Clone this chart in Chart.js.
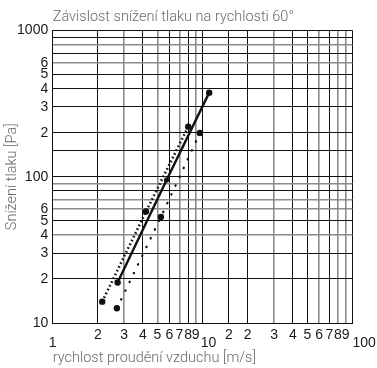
<!DOCTYPE html>
<html>
<head>
<meta charset="utf-8">
<script src="https://cdn.jsdelivr.net/npm/chart.js@4.4.1/dist/chart.umd.min.js"></script>
<style>
  html, body { margin: 0; padding: 0; background: #fff; }
  canvas { display: block; }
</style>
</head>
<body>
<canvas id="chart" width="377" height="368"></canvas>
<script>
// measured series (air speed m/s -> pressure drop Pa)
const solidSpeed = [2.71, 5.75, 11.07];
const solidDrop = [18.9, 95, 376];
const dashSpeed = [2.14, 4.19, 8.02];
const dashDrop = [14, 57.8, 220];
const dotSpeed = [2.68, 5.27, 9.59];
const dotDrop = [12.6, 53, 199];

const yLabeled = [10, 20, 30, 40, 50, 60, 100, 200, 300, 400, 500, 600, 1000];
const xDecades = {1: ['', '1'], 10: ['', '   10'], 100: ['', '      100']};

// grid lines that came out grey in the scan
const greyX = [3, 5, 7, 9, 30, 60, 80, 90];
const greyY = [800, 600, 90, 70, 60, 40];

const toPoints = (xs, ys) => xs.map((x, i) => ({x: x, y: ys[i]}));

function mantissa(v) {
    return Math.round(v / Math.pow(10, Math.floor(Math.log10(v) + 1e-9)));
}

const ink = '#111';
const grey = '#8c8c8c';
const labelColor = '#6a6a6a';
const labelFont = {family: 'Roboto', size: 14.5, weight: 300, lineHeight: 1.2};

new Chart(document.getElementById('chart'), {
    type: 'line',
    data: {
        datasets: [
            {
                data: toPoints(solidSpeed, solidDrop),
                borderColor: ink,
                backgroundColor: ink,
                borderWidth: 2.4,
                pointRadius: [3.2, 2.6, 3.2],
                pointBorderWidth: 0,
            },
            {
                data: toPoints(dashSpeed, dashDrop),
                borderColor: ink,
                backgroundColor: ink,
                borderWidth: 2.6,
                borderDash: [1.6, 2.6],
                pointRadius: 3.2,
                pointBorderWidth: 0,
            },
            {
                data: toPoints(dotSpeed, dotDrop),
                borderColor: ink,
                backgroundColor: ink,
                borderWidth: 2.2,
                borderDash: [0.5, 9.2],
                borderCapStyle: 'round',
                pointRadius: 3.2,
                pointBorderWidth: 0,
            },
        ]
    },
    options: {
        responsive: false,
        animation: false,
        layout: {
            padding: {top: 0, right: 24.5, left: 0, bottom: 0}
        },
        plugins: {
            legend: {display: false},
            tooltip: {enabled: false},
            title: {
                display: true,
                text: 'Závislost snížení tlaku na rychlosti 60°',
                align: 'start',
                fullSize: false,
                color: labelColor,
                font: labelFont,
                padding: {top: 8.5, bottom: 4.6},
            },
        },
        scales: {
            x: {
                type: 'logarithmic',
                min: 1,
                max: 100,
                grid: {
                    drawTicks: false,
                    color: ctx => greyX.includes(ctx.tick && ctx.tick.value) ? grey : ink,
                    lineWidth: ctx => greyX.includes(ctx.tick && ctx.tick.value) ? 1.6 : 1,
                },
                border: {display: true, color: ink, width: 1},
                ticks: {
                    autoSkip: false,
                    maxRotation: 0,
                    padding: 8,
                    color: '#1a1a1a',
                    font: {family: 'Liberation Sans', size: 14, lineHeight: '8px'},
                    callback: function (value) {
                        if (xDecades[value]) return xDecades[value];
                        return String(mantissa(value));
                    }
                },
                title: {
                    display: true,
                    text: 'rychlost proudění vzduchu [m/s]',
                    align: 'start',
                    color: labelColor,
                    font: labelFont,
                    padding: {top: 0, bottom: 1.3},
                },
                afterFit: scale => {
                    scale.height = 45;
                    scale.paddingLeft = 0;
                    scale.paddingRight = 0;
                },
            },
            y: {
                type: 'logarithmic',
                min: 10,
                max: 1000,
                grid: {
                    drawTicks: false,
                    color: ctx => greyY.includes(ctx.tick && ctx.tick.value) ? grey : ink,
                    lineWidth: ctx => greyY.includes(ctx.tick && ctx.tick.value) ? 1.6 : 1,
                },
                border: {display: true, color: ink, width: 1},
                ticks: {
                    autoSkip: false,
                    padding: 4.5,
                    color: '#1a1a1a',
                    font: {family: 'Liberation Sans', size: 14},
                    callback: function (value) {
                        if (!yLabeled.includes(value)) return '';
                        if (value === 10 || value === 100 || value === 1000) return String(value);
                        return String(mantissa(value));
                    }
                },
                title: {
                    display: true,
                    text: 'Snížení tlaku [Pa]',
                    color: labelColor,
                    font: labelFont,
                    padding: {top: 3.8, bottom: 0},
                },
                afterFit: scale => {
                    scale.width = 52.7;
                    scale.paddingTop = 0;
                    scale.paddingBottom = 0;
                },
            },
        },
    }
});
</script>
</body>
</html>
